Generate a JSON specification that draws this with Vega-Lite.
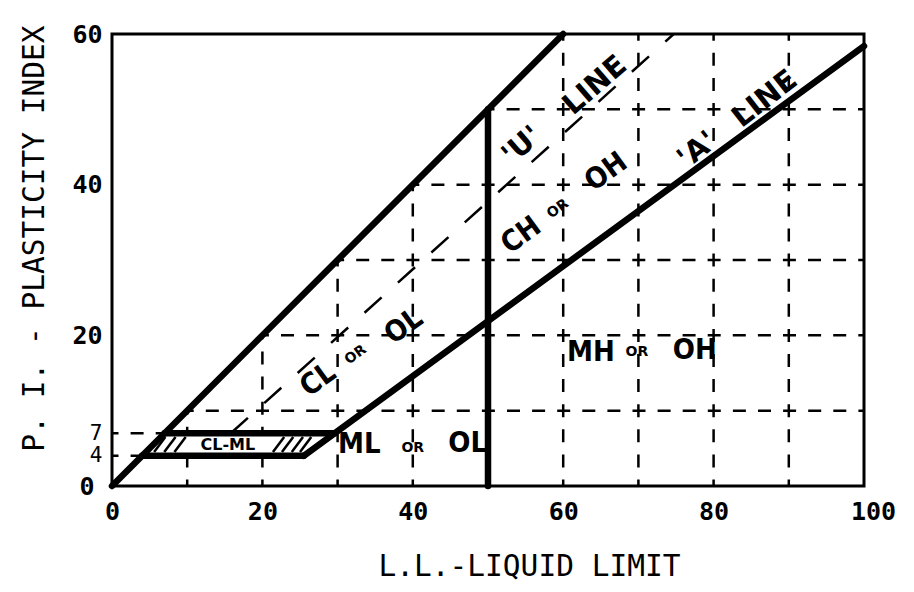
{
  "$schema": "https://vega.github.io/schema/vega-lite/v6.json",
  "width": 752,
  "height": 452,
  "autosize": "none",
  "padding": {"left": 112, "top": 34, "right": 50, "bottom": 106},
  "background": "white",
  "config": {
    "view": {"stroke": "black", "strokeWidth": 3},
    "text": {"color": "black"}
  },
  "datasets": {
    "grid": [
      {"x": 10, "y": 10, "x2": 100, "y2": 10},
      {"x": 20, "y": 20, "x2": 100, "y2": 20},
      {"x": 30, "y": 30, "x2": 100, "y2": 30},
      {"x": 40, "y": 40, "x2": 100, "y2": 40},
      {"x": 50, "y": 50, "x2": 100, "y2": 50},
      {"x": 0, "y": 4, "x2": 4, "y2": 4},
      {"x": 0, "y": 7, "x2": 7, "y2": 7},
      {"x": 10, "y": 0, "x2": 10, "y2": 4},
      {"x": 10, "y": 7, "x2": 10, "y2": 10},
      {"x": 20, "y": 0, "x2": 20, "y2": 4},
      {"x": 20, "y": 7, "x2": 20, "y2": 20},
      {"x": 30, "y": 0, "x2": 30, "y2": 30},
      {"x": 40, "y": 0, "x2": 40, "y2": 40},
      {"x": 60, "y": 0, "x2": 60, "y2": 60},
      {"x": 70, "y": 0, "x2": 70, "y2": 60},
      {"x": 80, "y": 0, "x2": 80, "y2": 60},
      {"x": 90, "y": 0, "x2": 90, "y2": 60}
    ],
    "hatch": [
      {"x": 5.6, "y": 4.5, "x2": 7.1, "y2": 6.5},
      {"x": 6.95, "y": 4.5, "x2": 8.45, "y2": 6.5},
      {"x": 8.3, "y": 4.5, "x2": 9.8, "y2": 6.5},
      {"x": 21.4, "y": 4.5, "x2": 22.9, "y2": 6.5},
      {"x": 22.6, "y": 4.5, "x2": 24.1, "y2": 6.5},
      {"x": 23.9, "y": 4.5, "x2": 25.4, "y2": 6.5},
      {"x": 25.0, "y": 4.5, "x2": 26.5, "y2": 6.5}
    ],
    "uline": [
      {"x": 15.8, "y": 7, "x2": 74.7, "y2": 60}
    ],
    "thick": [
      {"x": 0, "y": 0, "x2": 60, "y2": 60},
      {"x": 50, "y": 0, "x2": 50, "y2": 50},
      {"x": 4, "y": 4, "x2": 25.5, "y2": 4},
      {"x": 7, "y": 7, "x2": 29.6, "y2": 7},
      {"x": 25.5, "y": 4, "x2": 100, "y2": 58.4}
    ],
    "flatBig": [
      {"x": 63.7, "y": 17.8, "t": "MH"},
      {"x": 77.5, "y": 18.0, "t": "OH"},
      {"x": 32.9, "y": 5.6, "t": "ML"},
      {"x": 47.3, "y": 5.7, "t": "OL"}
    ],
    "flatOr": [
      {"x": 69.8, "y": 17.8, "t": "OR"},
      {"x": 40.0, "y": 5.0, "t": "OR"}
    ],
    "tiltBig": [
      {"x": 27.4, "y": 14.1, "t": "CL"},
      {"x": 38.8, "y": 21.2, "t": "OL"},
      {"x": 54.4, "y": 33.3, "t": "CH"},
      {"x": 65.7, "y": 41.7, "t": "OH"}
    ],
    "tiltOr": [
      {"x": 32.4, "y": 17.4, "t": "OR"},
      {"x": 59.3, "y": 36.8, "t": "OR"}
    ],
    "uText": [
      {"x": 54.5, "y": 45.2, "t": "'U'"},
      {"x": 64.2, "y": 53.2, "t": "LINE"}
    ],
    "aText": [
      {"x": 77.8, "y": 44.6, "t": "'A'"},
      {"x": 86.8, "y": 51.4, "t": "LINE"}
    ],
    "band": [
      {"x": 15.4, "y": 5.5, "t": "CL-ML"}
    ]
  },
  "layer": [
    {
      "data": {"name": "grid"},
      "mark": {"type": "rule", "stroke": "black", "strokeWidth": 2.5, "strokeDash": [13, 12.1], "strokeDashOffset": 6.5},
      "encoding": {
        "x": {
          "field": "x", "type": "quantitative",
          "scale": {"domain": [0, 100], "nice": false, "zero": false},
          "axis": {
            "values": [0, 20, 40, 60, 80, 100],
            "grid": false, "ticks": false, "domain": false,
            "labelFont": "DejaVu Sans Mono", "labelFontSize": 25, "labelFontWeight": "bold",
            "labelColor": "black", "labelPadding": 13, "labelFlush": false, "labelOverlap": false,
            "labelOffset": {"condition": {"test": "datum.value === 100", "value": 9}, "value": 0},
            "title": "L.L.-LIQUID LIMIT",
            "titleFont": "DejaVu Sans Mono", "titleFontSize": 29.5, "titleFontWeight": "normal",
            "titleColor": "black", "titleX": 417, "titleY": 80, "titleAlign": "center", "titleBaseline": "middle"
          }
        },
        "y": {
          "field": "y", "type": "quantitative",
          "scale": {"domain": [0, 60], "nice": false, "zero": false},
          "axis": {
            "values": [0, 4, 7, 20, 40, 60],
            "grid": false, "ticks": false, "domain": false,
            "labelFont": "DejaVu Sans Mono",
            "labelFontSize": {"condition": {"test": "datum.value === 4 || datum.value === 7", "value": 21}, "value": 25},
            "labelFontWeight": {"condition": {"test": "datum.value === 4 || datum.value === 7", "value": "normal"}, "value": "bold"},
            "labelPadding": {"condition": {"test": "datum.value === 0", "value": 18}, "value": 10},
            "labelColor": "black", "labelFlush": false, "labelOverlap": false,
            "title": "P. I. - PLASTICITY INDEX",
            "titleFont": "DejaVu Sans Mono", "titleFontSize": 29.5, "titleFontWeight": "normal",
            "titleColor": "black", "titleX": -78, "titleY": 204, "titleAlign": "center", "titleBaseline": "middle", "titleAngle": 270
          }
        },
        "x2": {"field": "x2"},
        "y2": {"field": "y2"}
      }
    },
    {
      "data": {"name": "hatch"},
      "mark": {"type": "rule", "stroke": "black", "strokeWidth": 2.5},
      "encoding": {
        "x": {"field": "x", "type": "quantitative"},
        "y": {"field": "y", "type": "quantitative"},
        "x2": {"field": "x2"},
        "y2": {"field": "y2"}
      }
    },
    {
      "data": {"name": "uline"},
      "mark": {"type": "rule", "stroke": "black", "strokeWidth": 2.5, "strokeDash": [23, 22]},
      "encoding": {
        "x": {"field": "x", "type": "quantitative"},
        "y": {"field": "y", "type": "quantitative"},
        "x2": {"field": "x2"},
        "y2": {"field": "y2"}
      }
    },
    {
      "data": {"name": "thick"},
      "mark": {"type": "rule", "stroke": "black", "strokeWidth": 6.5, "strokeCap": "round"},
      "encoding": {
        "x": {"field": "x", "type": "quantitative"},
        "y": {"field": "y", "type": "quantitative"},
        "x2": {"field": "x2"},
        "y2": {"field": "y2"}
      }
    },
    {
      "data": {"name": "flatBig"},
      "mark": {"type": "text", "font": "DejaVu Sans Condensed, DejaVu Sans", "fontWeight": "bold", "fontSize": 29, "align": "center", "baseline": "middle"},
      "encoding": {
        "x": {"field": "x", "type": "quantitative"},
        "y": {"field": "y", "type": "quantitative"},
        "text": {"field": "t"}
      }
    },
    {
      "data": {"name": "flatOr"},
      "mark": {"type": "text", "font": "DejaVu Sans", "fontWeight": "bold", "fontSize": 14, "align": "center", "baseline": "middle"},
      "encoding": {
        "x": {"field": "x", "type": "quantitative"},
        "y": {"field": "y", "type": "quantitative"},
        "text": {"field": "t"}
      }
    },
    {
      "data": {"name": "tiltBig"},
      "mark": {"type": "text", "font": "DejaVu Sans Condensed, DejaVu Sans", "fontWeight": "bold", "fontSize": 29, "align": "center", "baseline": "middle", "angle": 324},
      "encoding": {
        "x": {"field": "x", "type": "quantitative"},
        "y": {"field": "y", "type": "quantitative"},
        "text": {"field": "t"}
      }
    },
    {
      "data": {"name": "tiltOr"},
      "mark": {"type": "text", "font": "DejaVu Sans", "fontWeight": "bold", "fontSize": 14, "align": "center", "baseline": "middle", "angle": 324},
      "encoding": {
        "x": {"field": "x", "type": "quantitative"},
        "y": {"field": "y", "type": "quantitative"},
        "text": {"field": "t"}
      }
    },
    {
      "data": {"name": "uText"},
      "mark": {"type": "text", "font": "DejaVu Sans", "fontWeight": "bold", "fontSize": 29, "align": "center", "baseline": "middle", "angle": 319},
      "encoding": {
        "x": {"field": "x", "type": "quantitative"},
        "y": {"field": "y", "type": "quantitative"},
        "text": {"field": "t"}
      }
    },
    {
      "data": {"name": "aText"},
      "mark": {"type": "text", "font": "DejaVu Sans", "fontWeight": "bold", "fontSize": 29, "align": "center", "baseline": "middle", "angle": 322},
      "encoding": {
        "x": {"field": "x", "type": "quantitative"},
        "y": {"field": "y", "type": "quantitative"},
        "text": {"field": "t"}
      }
    },
    {
      "data": {"name": "band"},
      "mark": {"type": "text", "font": "DejaVu Sans", "fontWeight": "bold", "fontSize": 16, "align": "center", "baseline": "middle"},
      "encoding": {
        "x": {"field": "x", "type": "quantitative"},
        "y": {"field": "y", "type": "quantitative"},
        "text": {"field": "t"}
      }
    }
  ]
}
